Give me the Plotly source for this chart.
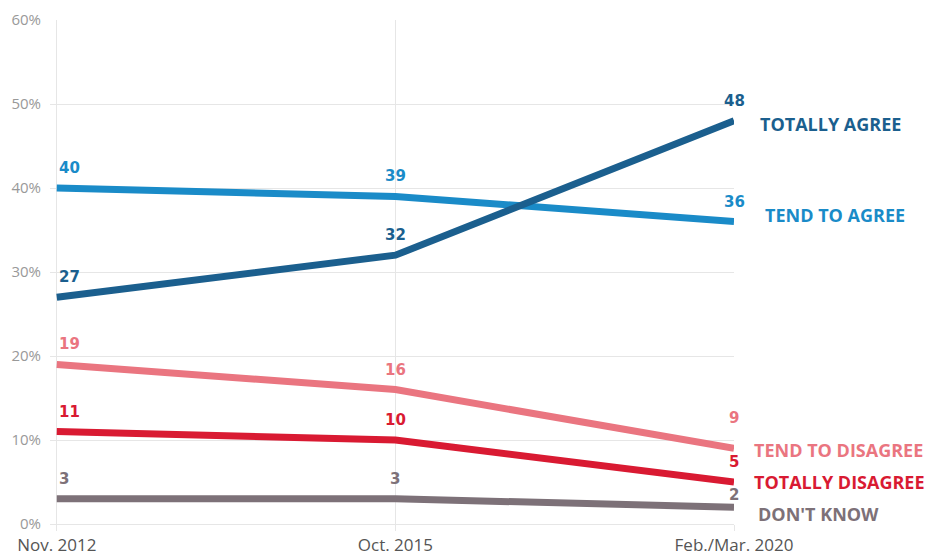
import plotly.graph_objects as go

periods = ["Nov. 2012", "Oct. 2015", "Feb./Mar. 2020"]

dont_know = [3, 3, 2]
totally_disagree = [11, 10, 5]
tend_to_disagree = [19, 16, 9]
tend_to_agree = [40, 39, 36]
totally_agree = [27, 32, 48]

series_names = ["DON'T KNOW", "TOTALLY DISAGREE", "TEND TO DISAGREE", "TEND TO AGREE", "TOTALLY AGREE"]
series_values = [dont_know, totally_disagree, tend_to_disagree, tend_to_agree, totally_agree]
series_colors = ["#7d7178", "#d91a32", "#ea7580", "#1a8bc8", "#1b5f8e"]

y_ticks = [0, 10, 20, 30, 40, 50, 60]

# label placement: end-label y (data units), end-label x offset (px), last value label shift (px)
end_label_y = [1.2, 5.0, 8.8, 36.8, 47.6]
end_label_dx = [22, 18, 18, 29, 24]
last_value_shift = [12, 20, 30, 20, 20]

FONT = "Open Sans"
NUM_FONT = "DejaVu Sans"

fig = go.Figure()
x_idx = list(range(len(periods)))

for name, vals, color in zip(series_names, series_values, series_colors):
    fig.add_trace(go.Scatter(
        x=x_idx, y=vals, mode="lines", name=name,
        line=dict(color=color, width=7),
        hoverinfo="skip", showlegend=False,
    ))

for i, (name, vals, color) in enumerate(zip(series_names, series_values, series_colors)):
    for j, v in enumerate(vals):
        shift = last_value_shift[i] if j == len(vals) - 1 else 20
        fig.add_annotation(
            x=x_idx[j], y=v, text=f"<b>{v}</b>", showarrow=False,
            xanchor="left" if j == 0 else "center",
            yanchor="middle", yshift=shift,
            font=dict(family=NUM_FONT, size=15, color=color),
        )
    fig.add_annotation(
        x=x_idx[-1], y=end_label_y[i], text=f"<b>{name}</b>", showarrow=False,
        xanchor="left", yanchor="middle", xshift=end_label_dx[i],
        font=dict(family=FONT, size=18, color=color),
    )

fig.update_layout(
    width=928, height=560,
    margin=dict(l=50, r=194, t=20, b=36),
    plot_bgcolor="white", paper_bgcolor="white",
    font=dict(family=FONT),
    xaxis=dict(
        range=[-0.02, 2.0], automargin=False,
        tickmode="array", tickvals=x_idx, ticktext=periods,
        showgrid=True, gridcolor="#e6e6e6", gridwidth=1,
        ticks="outside", ticklen=6, tickcolor="#e6e6e6",
        ticklabelstandoff=0,
        tickfont=dict(family=FONT, size=17, color="#555555"),
        zeroline=False, showline=False,
    ),
    yaxis=dict(
        range=[0, 60], automargin=False,
        tickmode="array", tickvals=y_ticks, ticktext=[f"{t}%" for t in y_ticks],
        showgrid=True, gridcolor="#e6e6e6", gridwidth=1,
        zeroline=True, zerolinecolor="#e6e6e6", zerolinewidth=1,
        tickfont=dict(family=FONT, size=15, color="#999999"),
        ticks="", ticklabelstandoff=8,
        showline=False,
    ),
)

fig.write_html("out.html")
